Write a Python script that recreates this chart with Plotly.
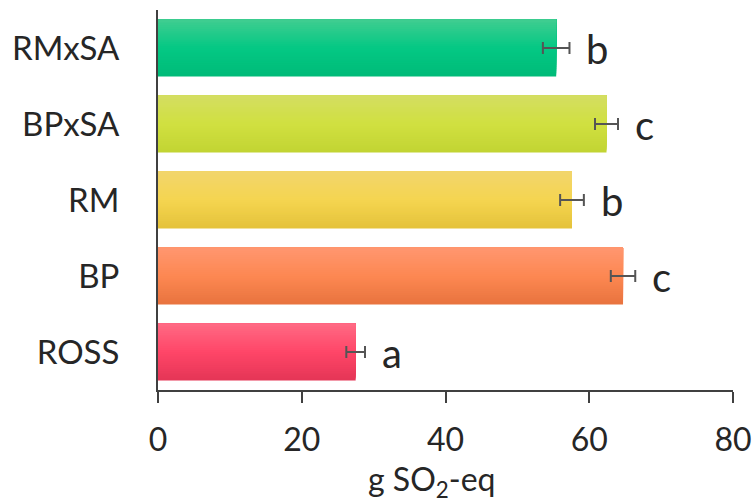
import plotly.graph_objects as go

# Treatments, bottom to top
categories = ["ROSS", "BP", "RM", "BPxSA", "RMxSA"]
values = [27.5, 64.7, 57.6, 62.4, 55.4]
errors = [1.3, 1.7, 1.65, 1.6, 1.85]
letters = ["a", "c", "b", "c", "b"]

# Vertical gradient stops for each bar: top, middle, bottom
grad_top = ["#ff6a84", "#ff9670", "#f2d56c", "#d4de62", "#40cd90"]
grad_mid = ["#ff4668", "#fd8852", "#f5d550", "#d0e040", "#04c884"]
grad_bot = ["#e43556", "#e8733e", "#e4c23a", "#c2d433", "#00bb78"]

TEXT = "#262626"
AXIS = "#404040"
BAR_W = 0.75
N_SLICES = 30


def hex_rgb(h):
    h = h.lstrip("#")
    return tuple(int(h[i:i + 2], 16) for i in (0, 2, 4))


def mix(c1, c2, t):
    a, b = hex_rgb(c1), hex_rgb(c2)
    return "rgb(%d,%d,%d)" % tuple(round(a[k] + (b[k] - a[k]) * t) for k in range(3))


def shade(i, frac):
    # frac: 0 at bottom edge, 1 at top edge
    if frac < 0.5:
        return mix(grad_bot[i], grad_mid[i], frac / 0.5)
    return mix(grad_mid[i], grad_top[i], (frac - 0.5) / 0.5)


fig = go.Figure()

# Gradient fill: each layer starts a little higher and runs to the top edge
# of the bar, so later layers cover the upper part of earlier ones.
slice_w = BAR_W / N_SLICES
for s in range(N_SLICES):
    frac = (s + 0.5) / N_SLICES
    fig.add_trace(go.Bar(
        y=categories,
        x=values,
        orientation="h",
        width=BAR_W - s * slice_w,
        offset=-BAR_W / 2 + s * slice_w,
        marker=dict(color=[shade(i, frac) for i in range(len(categories))],
                    line=dict(width=0)),
        hoverinfo="skip",
        showlegend=False,
    ))

# Error bars
fig.add_trace(go.Scatter(
    y=categories,
    x=values,
    mode="markers",
    marker=dict(size=0.1, color="rgba(0,0,0,0)"),
    error_x=dict(type="data", array=errors, visible=True,
                 color="#555555", thickness=2, width=6),
    showlegend=False,
    hoverinfo="skip",
))

# Significance letters
for cat, v, e, lab in zip(categories, values, errors, letters):
    fig.add_annotation(
        x=v + e, y=cat, xref="x", yref="y",
        text=lab, showarrow=False,
        xanchor="left", yanchor="middle", xshift=15, yshift=-1,
        font=dict(family="Lato", size=40, color=TEXT),
    )

# Axis title
fig.add_annotation(
    x=0.477, y=0, xref="paper", yref="paper",
    text="g SO<sub>2</sub>-eq", showarrow=False,
    xanchor="center", yanchor="middle", yshift=-91,
    font=dict(family="Lato", size=32, color=TEXT),
)

fig.update_layout(
    width=755, height=502,
    margin=dict(l=157.5, r=22.3, t=10, b=112, autoexpand=False),
    paper_bgcolor="white", plot_bgcolor="white",
    barmode="overlay",
    font=dict(family="Lato", color=TEXT),
)

fig.update_xaxes(
    range=[0, 80], tickvals=[0, 20, 40, 60, 80],
    showgrid=False, zeroline=False, automargin=False,
    showline=True, linecolor=AXIS, linewidth=1.5,
    ticks="outside", ticklen=11, tickcolor=AXIS, tickwidth=1.5,
    ticklabelstandoff=10,
    tickfont=dict(family="Lato", size=32, color=TEXT),
)

fig.update_yaxes(
    type="category", categoryorder="array", categoryarray=categories,
    range=[-0.5, 4.5], automargin=False,
    showgrid=False, zeroline=False,
    showline=True, linecolor=AXIS, linewidth=2,
    ticks="", ticklabelstandoff=30,
    tickfont=dict(family="Lato", size=33, color=TEXT),
)

fig.write_html("out.html")
